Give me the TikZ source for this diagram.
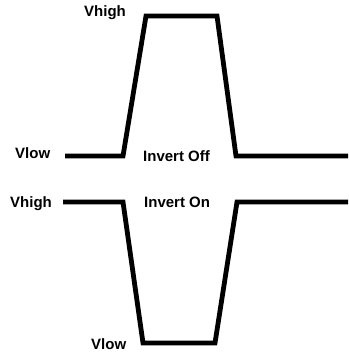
\documentclass[tikz,border=0pt]{standalone}
\usepackage{fontspec}
\setmainfont{Liberation Sans}
\usepackage{tikz}

\begin{document}
\begin{tikzpicture}[x=1pt, y=-1pt,
  lbl/.style={anchor=base west, inner sep=0pt, font=\fontsize{15}{17}\selectfont\bfseries},
  wave/.style={line width=4.8pt, line join=miter}]
\useasboundingbox (0,0) rectangle (348,352);
% invert off
\node[lbl] (hiA) at (84,17) {Vhigh};
\node[lbl] (loA) at (15,159) {Vlow};
\node[lbl] (offA) at (143,162) {Invert Off};
\draw[wave] (65,156) -- (123,156) -- (146,16) -- (217,16) -- (236,156) -- (348,156);

% invert on
\node[lbl] (hiB) at (10,207) {Vhigh};
\node[lbl] (loB) at (91,349) {Vlow};
\node[lbl] (onB) at (144,207) {Invert On};
\draw[wave] (63,202) -- (123,202) -- (143,343) -- (215,343) -- (237,202) -- (348,202);
\end{tikzpicture}
\end{document}
